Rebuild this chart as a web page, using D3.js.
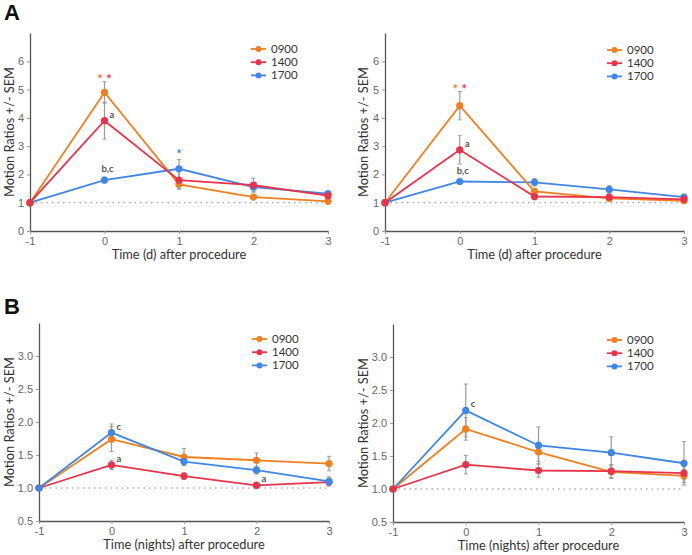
<!DOCTYPE html>
<html><head><meta charset="utf-8">
<script src="https://cdn.jsdelivr.net/npm/d3@7"></script>
<style>body{margin:0;background:#fff}svg{display:block;font-family:Lato,"Open Sans",sans-serif}</style>
</head><body><svg id="c" width="692" height="555"></svg>
<script>
const days = [-1, 0, 1, 2, 3];
const dayLabels = ["-1", "0", "1", "2", "3"];
const seriesNames = ["0900", "1400", "1700"];
const colors = {"0900": "#f07f1f", "1400": "#e8334a", "1700": "#3f86e6"};

// Panel A left (days)
const aL_0900 = [1, 4.9, 1.65, 1.2, 1.05];
const aL_1400 = [1, 3.9, 1.8, 1.62, 1.25];
const aL_1700 = [1, 1.8, 2.2, 1.55, 1.32];
const aL_err0900 = [0, 0.38, 0.17, 0.06, 0.04];
const aL_err1400 = [0, 0.65, 0.3, 0.25, 0.06];
const aL_err1700 = [0, 0.1, 0.33, 0.15, 0.07];
// Panel A right (days)
const aR_0900 = [1, 4.43, 1.4, 1.15, 1.07];
const aR_1400 = [1, 2.87, 1.22, 1.2, 1.12];
const aR_1700 = [1, 1.75, 1.72, 1.47, 1.2];
const aR_err0900 = [0, 0.5, 0.1, 0.08, 0.04];
const aR_err1400 = [0, 0.5, 0.12, 0.1, 0.06];
const aR_err1700 = [0, 0.08, 0.13, 0.13, 0.06];
// Panel B left (nights)
const bL_0900 = [1, 1.74, 1.47, 1.42, 1.37];
const bL_1400 = [1, 1.35, 1.18, 1.04, 1.09];
const bL_1700 = [1, 1.84, 1.40, 1.27, 1.10];
const bL_err0900 = [0, 0.19, 0.13, 0.11, 0.11];
const bL_err1400 = [0, 0.07, 0.05, 0.05, 0.05];
const bL_err1700 = [0, 0.13, 0.06, 0.06, 0.07];
// Panel B right (nights)
const bR_0900 = [1, 1.91, 1.56, 1.26, 1.20];
const bR_1400 = [1, 1.37, 1.28, 1.27, 1.24];
const bR_1700 = [1, 2.19, 1.66, 1.55, 1.39];
const bR_err0900 = [0, 0.17, 0.14, 0.1, 0.1];
const bR_err1400 = [0, 0.14, 0.1, 0.1, 0.1];
const bR_err1700 = [0, 0.4, 0.28, 0.24, 0.33];

const yTicksA = [0, 1, 2, 3, 4, 5, 6];
const yTicksB = [0.5, 1.0, 1.5, 2.0, 2.5, 3.0];
const yTitle = "Motion Ratios +/- SEM";
const xTitleA = "Time (d) after procedure";
const xTitleB = "Time (nights) after procedure";

// annotations: [series, dayIndex, text, kind]
const annAL = [["0900",1,"*","star"],["1400",1,"*","star"],["1400",1,"a","lbl"],["1700",1,"b,c","top"],["1700",2,"*","star"]];
const annAR = [["0900",1,"*","star"],["1400",1,"*","star"],["1400",1,"a","lbl"],["1700",1,"b,c","top"]];
const annBL = [["1700",1,"c","lbl"],["1400",1,"a","lbl"],["1400",3,"a","lbl"]];
const annBR = [["1700",1,"c","lbl"]];

const svg = d3.select("#c");

function panel(cfg) {
  const x = d3.scaleLinear().domain([-1, 3]).range([cfg.x0, cfg.x1]);
  const y = d3.scaleLinear().domain(cfg.ydom).range([cfg.y0, cfg.y1]);
  const g = svg.append("g");
  // y axis
  const ya = g.append("g").attr("transform", `translate(${cfg.x0},0)`)
    .call(d3.axisLeft(y).tickValues(cfg.yticks).tickFormat(cfg.fmt).tickSize(3).tickSizeOuter(0));
  ya.select(".domain").attr("stroke", "#555").attr("stroke-width", 1.3);
  ya.selectAll(".tick line").attr("stroke", "#999");
  ya.selectAll(".tick text").attr("fill", "#666").attr("font-size", 11);
  // x axis
  const xa = g.append("g").attr("transform", `translate(0,${cfg.y0})`)
    .call(d3.axisBottom(x).tickValues(days).tickSize(3).tickSizeOuter(0).tickFormat((d, i) => dayLabels[i]));
  xa.select(".domain").attr("stroke", "#555").attr("stroke-width", 1.3);
  xa.selectAll(".tick line").attr("stroke", "#999");
  xa.selectAll(".tick text").attr("fill", "#666").attr("font-size", 11);
  // reference dotted line at 1
  g.append("line").attr("x1", x(-1)).attr("x2", x(3)).attr("y1", y(1)).attr("y2", y(1))
    .attr("stroke", "#888").attr("stroke-width", 1).attr("stroke-dasharray", "1.5,4");
  // titles
  g.append("text").attr("x", (cfg.x0 + cfg.x1) / 2).attr("y", cfg.y0 + 28)
    .attr("text-anchor", "middle").attr("font-size", 12.8).attr("fill", "#333").text(cfg.xtitle);
  g.append("text").attr("transform", `translate(${cfg.x0 - cfg.ytOff},${(cfg.y0 + cfg.y1) / 2}) rotate(-90)`)
    .attr("text-anchor", "middle").attr("dy", "0.35em").attr("font-size", 12.8).attr("fill", "#333").text(yTitle);
  // error bars
  seriesNames.forEach(s => {
    const vals = cfg.data[s], errs = cfg.err[s];
    g.append("g").selectAll("g").data(days.map((d, i) => ({d, v: vals[i], e: errs[i]})).filter(p => p.e > 0))
      .join("g").each(function(p) {
        const gg = d3.select(this);
        gg.append("line").attr("x1", x(p.d)).attr("x2", x(p.d)).attr("y1", y(p.v - p.e)).attr("y2", y(p.v + p.e))
          .attr("stroke", "#9a9a9a").attr("stroke-width", 1.2);
        [p.v - p.e, p.v + p.e].forEach(t => gg.append("line").attr("x1", x(p.d) - 2).attr("x2", x(p.d) + 2)
          .attr("y1", y(t)).attr("y2", y(t)).attr("stroke", "#9a9a9a").attr("stroke-width", 1));
      });
  });
  // lines & markers
  const line = d3.line().x((v, i) => x(days[i])).y(v => y(v));
  cfg.order.forEach(s => {
    g.append("path").attr("d", line(cfg.data[s])).attr("fill", "none").attr("stroke", colors[s]).attr("stroke-width", 1.8);
    g.append("g").selectAll("circle").data(cfg.data[s]).join("circle")
      .attr("cx", (v, i) => x(days[i])).attr("cy", v => y(v)).attr("r", 3.6).attr("fill", colors[s]);
  });
  // annotations
  cfg.ann.forEach(([s, i, t, k]) => {
    const px = x(days[i]), py = y(cfg.data[s][i]);
    if (k === "star") {
      let dx = 0;
      if (i === 1) dx = (s === "0900" ? -4.5 : 4.5);
      const topV = Math.max(...seriesNames.map(n => cfg.data[n][i] + cfg.err[n][i]));
      const sy = (s === "1700") ? y(cfg.data[s][i] + cfg.err[s][i]) - 6 : y(topV) - 4;
      g.append("text").attr("x", px + dx).attr("y", sy + 6).attr("text-anchor", "middle")
        .attr("font-size", 13).attr("font-weight", "bold").attr("fill", colors[s]).text(t);
    } else if (k === "lbl") {
      g.append("text").attr("x", px + 5).attr("y", py - 3).attr("font-size", 9.5).attr("font-weight", "bold")
        .attr("fill", "#555").text(t);
    } else {
      g.append("text").attr("x", px + 3).attr("y", py - 8).attr("text-anchor", "middle").attr("font-size", 9.5)
        .attr("font-weight", "bold").attr("fill", "#555").text(t);
    }
  });
  // legend
  seriesNames.forEach((s, i) => {
    const ly = cfg.ly + i * 13.2;
    g.append("line").attr("x1", cfg.lx).attr("x2", cfg.lx + 15).attr("y1", ly).attr("y2", ly)
      .attr("stroke", colors[s]).attr("stroke-width", 1.8);
    g.append("circle").attr("cx", cfg.lx + 7.5).attr("cy", ly).attr("r", 3).attr("fill", colors[s]);
    g.append("text").attr("x", cfg.lx + 20).attr("y", ly).attr("dy", "0.35em").attr("font-size", 11.5)
      .attr("fill", "#333").text(s);
  });
}

const fA = d3.format("d"), fB = d3.format(".1f");
panel({x0: 30, x1: 328, y0: 231, y1: 33, ydom: [0, 7], yticks: yTicksA, fmt: fA, xtitle: xTitleA, ytOff: 20, order: ["1700","0900","1400"],
  data: {"0900": aL_0900, "1400": aL_1400, "1700": aL_1700}, err: {"0900": aL_err0900, "1400": aL_err1400, "1700": aL_err1700},
  ann: annAL, lx: 251, ly: 49});
panel({x0: 385, x1: 684, y0: 231, y1: 33, ydom: [0, 7], yticks: yTicksA, fmt: fA, xtitle: xTitleA, ytOff: 21, order: ["1700","0900","1400"],
  data: {"0900": aR_0900, "1400": aR_1400, "1700": aR_1700}, err: {"0900": aR_err0900, "1400": aR_err1400, "1700": aR_err1700},
  ann: annAR, lx: 607, ly: 50});
panel({x0: 39, x1: 329, y0: 521, y1: 323, ydom: [0.5, 3.5], yticks: yTicksB, fmt: fB, xtitle: xTitleB, ytOff: 29, order: ["0900","1400","1700"],
  data: {"0900": bL_0900, "1400": bL_1400, "1700": bL_1700}, err: {"0900": bL_err0900, "1400": bL_err1400, "1700": bL_err1700},
  ann: annBL, lx: 252, ly: 339});
panel({x0: 393, x1: 684, y0: 522, y1: 324, ydom: [0.5, 3.5], yticks: yTicksB, fmt: fB, xtitle: xTitleB, ytOff: 29, order: ["0900","1700","1400"],
  data: {"0900": bR_0900, "1400": bR_1400, "1700": bR_1700}, err: {"0900": bR_err0900, "1400": bR_err1400, "1700": bR_err1700},
  ann: annBR, lx: 607, ly: 340});

svg.append("text").attr("x", 4).attr("y", 20).attr("font-size", 22).attr("font-weight", "bold").attr("fill", "#111")
  .attr("font-family", "Liberation Sans, Arial, sans-serif").text("A");
svg.append("text").attr("x", 4).attr("y", 314).attr("font-size", 22).attr("font-weight", "bold").attr("fill", "#111")
  .attr("font-family", "Liberation Sans, Arial, sans-serif").text("B");
</script></body></html>
